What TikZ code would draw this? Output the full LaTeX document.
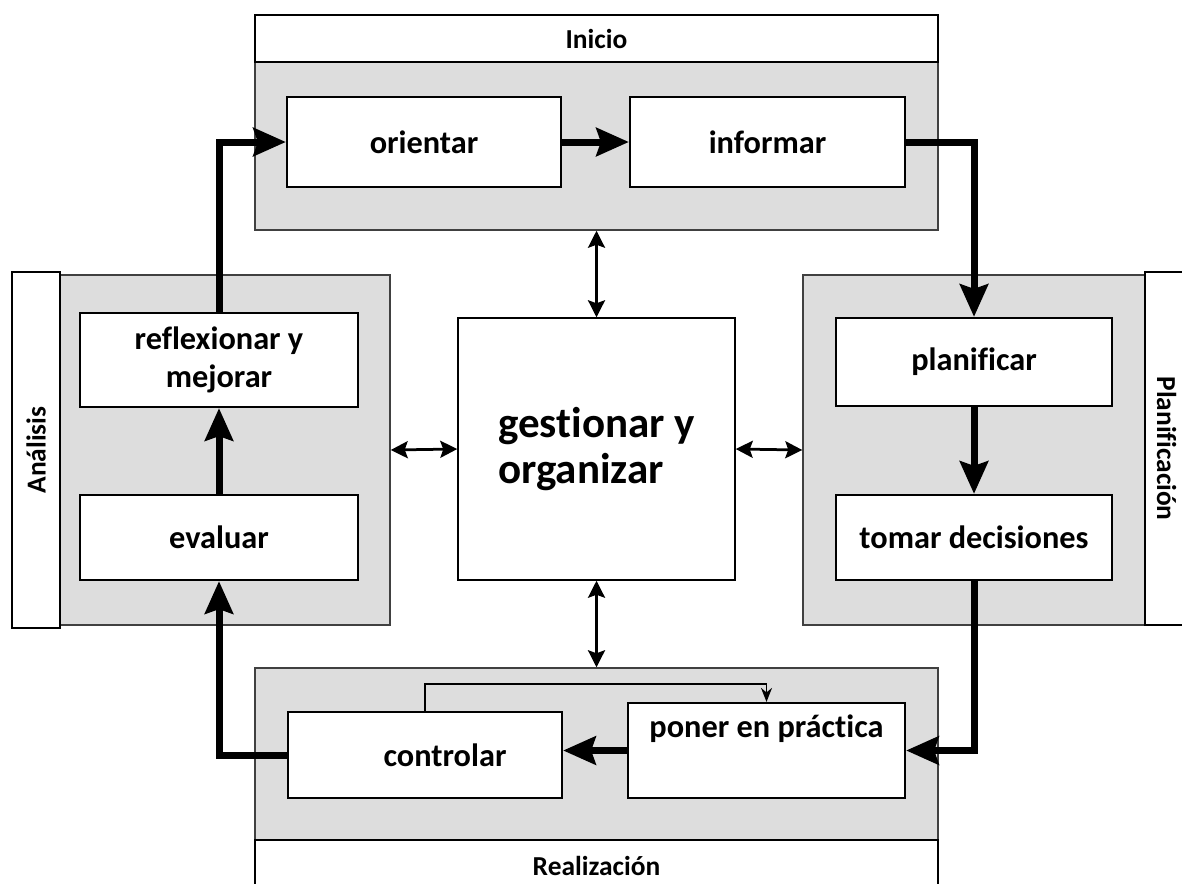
\documentclass[tikz,border=0pt]{standalone}
\usepackage{fontspec}
\setmainfont{Carlito}[Ligatures=NoCommon]
\usetikzlibrary{arrows.meta}
\definecolor{panelgray}{gray}{0.865}
\tikzset{
	panel/.style={draw=black!75, line width=0.3mm, fill=panelgray, inner sep=0pt},
	tagbox/.style={draw=black, line width=0.4mm, fill=white, inner sep=0pt, font=\bfseries\fontsize{15.6}{18}\selectfont},
	stepbox/.style={draw=black, line width=0.45mm, fill=white, inner sep=0pt, align=center, font=\bfseries\fontsize{18.4}{21.5}\selectfont},
	flow/.style={line width=1.4mm, -{Stealth[length=6.5mm, width=5.6mm, inset=0.9mm]}},
	link/.style={line width=0.55mm, {Stealth[length=3.4mm, width=3.4mm, inset=0.6mm]}-{Stealth[length=3.4mm, width=3.4mm, inset=0.6mm]}},
	loopback/.style={line width=0.35mm, -{Stealth[length=2.8mm, width=2.2mm]}}
}

\begin{document}
\begin{tikzpicture}[x=0.02cm, y=-0.02cm]
	%%%%% START %%%%%
	\useasboundingbox (0,0) rectangle (1182,883);
	
	% panels
	\node[panel, minimum width=13.66cm, minimum height=3.36cm] (inicioP) at (596.5,146) {};
	\node[panel, minimum width=6.6cm, minimum height=7cm] (analisisP) at (225,450) {};
	\node[panel, minimum width=6.84cm, minimum height=7cm] (planP) at (974,450) {};
	\node[panel, minimum width=13.66cm, minimum height=3.44cm] (realP) at (596.5,754) {};
	
	% tags
	\node[tagbox, minimum width=13.66cm, minimum height=0.94cm] (inicio) at (596.5,38.5) {Inicio};
	\node[tagbox, rotate=90, minimum width=7.12cm, minimum height=0.96cm] (analisis) at (36,450) {Análisis};
	\node[tagbox, rotate=-90, minimum width=7.06cm, minimum height=0.86cm] (plan) at (1166.5,448.5) {Planificación};
	\node[tagbox, minimum width=13.66cm, minimum height=1.04cm] (real) at (596.5,866) {Realización};
	
	% steps
	\node[stepbox, minimum width=5.48cm, minimum height=1.8cm] (orientar) at (424,142) {orientar};
	\node[stepbox, minimum width=5.5cm, minimum height=1.8cm] (informar) at (767.5,142) {informar};
	\node[stepbox, minimum width=5.52cm, minimum height=1.76cm] (planificar) at (974,362) {planificar};
	\node[stepbox, minimum width=5.52cm, minimum height=1.7cm] (tomar) at (974,537.5) {tomar decisiones};
	\node[stepbox, minimum width=5.54cm, minimum height=1.9cm] (poner) at (766.5,750.5) {poner en práctica\\ \strut};
	\node[stepbox, minimum width=5.48cm, minimum height=1.72cm] (controlar) at (425,755) {\hspace*{0.8cm}controlar};
	\node[stepbox, minimum width=5.56cm, minimum height=1.7cm] (evaluar) at (219,537.5) {evaluar};
	\node[stepbox, minimum width=5.56cm, minimum height=1.88cm] (reflexionar) at (219,360) {reflexionar y\\mejorar};
	
	\node[draw=black, line width=0.3mm, fill=white, minimum width=5.54cm, minimum height=5.24cm, align=left, font=\bfseries\fontsize{24.5}{26}\selectfont] (gestionar) at (596.5,449) {gestionar y\\organizar};
	
	% cycle
	\draw[flow] (orientar) -- (informar);
	\draw[flow] (informar.east) -| (planificar.north);
	\draw[flow] (planificar) -- (tomar);
	\draw[flow] (tomar.south) |- (poner.east);
	\draw[flow] (poner.west) -- (poner.west -| controlar.east);
	\draw[flow] (controlar.west) -| (evaluar.south);
	\draw[flow] (evaluar) -- (reflexionar);
	\draw[flow] (reflexionar.north) |- (orientar.west);
	
	\draw[loopback] (controlar.north) -- ++(0,-27) -| (poner.north);
	
	% links to the centre
	\draw[link] (inicioP.south) -- (gestionar.north);
	\draw[link] (gestionar.south) -- (realP.north);
	\draw[link] (analisisP.east) -- (gestionar.west);
	\draw[link] (gestionar.east) -- (planP.west);
	
	%%%%% END %%%%%
\end{tikzpicture}
\end{document}
